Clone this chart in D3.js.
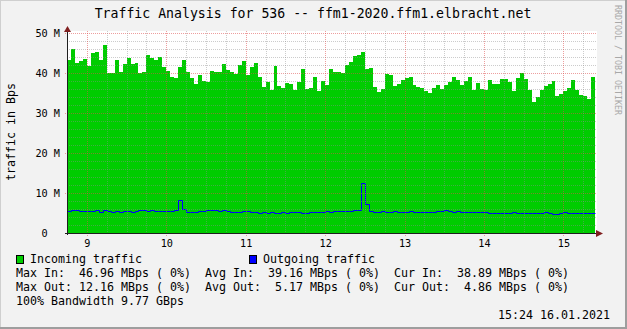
<!DOCTYPE html>
<html>
<head>
<meta charset="utf-8">
<script src="https://cdn.jsdelivr.net/npm/d3@7"></script>
<style>
  body { margin: 0; background: #fff; }
  svg text { font-family: "DejaVu Sans Mono", monospace; white-space: pre; }
</style>
</head>
<body>
<svg id="chart" width="627" height="329"></svg>
<script>
// values in MBps, one sample every 72 minutes starting 08.01.2021 18:00
var incoming = [
  43.25, 46, 42.5, 43, 43.5, 41.75, 45, 45.25, 43.25, 47, 40, 40, 43.25, 40.25,
  42.25, 43.75, 42.25, 42.5, 40, 40.25, 44.5, 43.75, 43.25, 44, 41.5, 40.5, 39, 38.75,
  41.5, 43.25, 40.25, 38.75, 37.25, 39.5, 38, 37.75, 40.5, 40.25, 40.25, 42.25, 40.75,
  40.25, 39.75, 42, 43, 39.5, 41.5, 42.5, 39, 36.5, 37.75, 35.75, 41.75,
  36.75, 36.25, 37.5, 37.25, 35.75, 37.75, 41, 36, 36.25, 39, 35.5, 38, 37, 41,
  40.25, 40.25, 40, 42, 42.75, 44.25, 44.5, 45.25, 41, 41.25, 36.5, 35.25, 36,
  39.75, 39.5, 36.75, 37.25, 38.25, 38.75, 39, 37, 36.5, 36.25, 35.5, 35, 36.25,
  37, 36, 37, 37.75, 39, 38.25, 37, 38, 39, 35.75, 37.5, 36, 35.75,
  38.25, 37.25, 37.25, 38.5, 38.5, 37.75, 35.5, 38.75, 40, 38.5, 35.75, 32.75, 34,
  35.75, 36.75, 37.25, 38, 34.25, 34.75, 35.5, 36.25, 38.25, 35.75, 34.5, 34.25, 33.5, 38.9
];
var outgoing = [
  5.25, 5.5, 5.5, 5.25, 5.25, 5.25, 5.25, 5.5, 5.0, 5.5, 5.25, 5.0, 5.25, 5.0,
  5.25, 5.25, 5.0, 5.25, 5.5, 5.5, 5.25, 5.5, 5.25, 5.25, 5.25, 5.25, 5.25, 5.5,
  8.0, 5.75, 5.0, 5.0, 5.0, 5.25, 5.25, 5.5, 5.5, 5.5, 5.25, 5.5, 5.25,
  5.0, 5.0, 5.0, 5.25, 5.25, 5.0, 5.0, 4.75, 5.0, 4.75, 5.0, 4.75,
  4.75, 5.0, 4.75, 5.0, 5.0, 5.0, 4.75, 4.75, 5.0, 5.0, 5.0, 5.0, 5.25, 5.0,
  5.25, 5.25, 5.25, 5.25, 5.25, 5.5, 5.5, 12.16, 6.9, 5.25, 5.0, 5.0, 5.25,
  5.0, 5.0, 5.25, 5.0, 5.0, 5.0, 5.25, 5.0, 5.0, 5.0, 5.0, 5.0, 5.0,
  5.25, 5.25, 5.5, 5.25, 5.0, 5.25, 5.0, 5.0, 5.0, 5.0, 5.0, 5.0, 5.0,
  4.75, 4.75, 4.75, 4.75, 4.75, 4.75, 5.0, 4.75, 4.75, 4.75, 4.75, 4.75, 4.75, 4.75,
  5.0, 4.75, 4.5, 4.5, 4.75, 5.0, 4.75, 4.75, 4.75, 4.75, 4.75, 4.75, 4.86
];
var yTicks = [0, 10, 20, 30, 40, 50];
var yLabels = ["0  ", "10 M", "20 M", "30 M", "40 M", "50 M"];
var title = "Traffic Analysis for 536 -- ffm1-2020.ffm1.elbracht.net";
var seriesNames = ["Incoming traffic", "Outgoing traffic"];
var seriesColors = ["#00CC00", "#0000FF"];
var statLines = [
  "Max In:  46.96 MBps ( 0%)  Avg In:  39.16 MBps ( 0%)  Cur In:  38.89 MBps ( 0%)",
  "Max Out: 12.16 MBps ( 0%)  Avg Out:  5.17 MBps ( 0%)  Cur Out:  4.86 MBps ( 0%)",
  "100% Bandwidth 9.77 GBps"
];
var stamp = "15:24 16.01.2021";

var svg = d3.select("#chart"),
  W = 627, H = 329,
  pLeft = 67, pRight = 597, pTop = 33, pBottom = 233;

var t0 = new Date(Date.UTC(2021, 0, 8, 18, 0)),
  stepMs = 72 * 60 * 1000,
  tEnd = new Date(+t0 + 6.6725 * 864e5);

var x = d3.scaleUtc().domain([t0, tEnd]).range([pLeft, pRight]),
  y = d3.scaleLinear().domain([0, 50]).range([pBottom, pTop]);

function toPoints(arr) {
  var pts = arr.map(function(v, i) { return {t: new Date(+t0 + i * stepMs), v: v}; });
  pts.push({t: new Date(+t0 + arr.length * stepMs), v: arr[arr.length - 1]});
  return pts;
}

// background + 3d frame
svg.append("rect").attr("width", W).attr("height", H).attr("fill", "#F2F2F2");
svg.append("rect").attr("x", 0).attr("y", 0).attr("width", W).attr("height", 1).attr("fill", "#CFCFCF");
svg.append("rect").attr("x", 0).attr("y", 0).attr("width", 1).attr("height", H).attr("fill", "#CFCFCF");
svg.append("rect").attr("x", 0).attr("y", H - 2).attr("width", W).attr("height", 2).attr("fill", "#9E9E9E");
svg.append("rect").attr("x", W - 2).attr("y", 0).attr("width", 2).attr("height", H).attr("fill", "#9E9E9E");

// canvas
svg.append("rect").attr("x", pLeft).attr("y", 31).attr("width", pRight - pLeft).attr("height", pBottom - 31)
  .attr("fill", "#fff");

// incoming area
svg.append("path")
  .datum(toPoints(incoming))
  .attr("fill", seriesColors[0])
  .attr("shape-rendering", "crispEdges")
  .attr("d", d3.area().curve(d3.curveStepAfter)
    .x(function(d) { return x(d.t); })
    .y0(y(0))
    .y1(function(d) { return y(d.v); }));

// outgoing line
svg.append("path")
  .datum(toPoints(outgoing))
  .attr("fill", "none")
  .attr("stroke", seriesColors[1])
  .attr("stroke-width", 1)
  .attr("transform", "translate(0.5,-0.5)")
  .attr("d", d3.line().curve(d3.curveStepAfter)
    .x(function(d) { return Math.round(x(d.t)); })
    .y(function(d) { return Math.round(y(d.v)); }));

// grid on top of data
var grid = svg.append("g").attr("stroke-dasharray", "1,1").attr("shape-rendering", "crispEdges");
d3.range(2, 51, 2).forEach(function(v) {
  var major = v % 10 === 0;
  grid.append("line")
    .attr("x1", pLeft - (major ? 2 : 0)).attr("x2", pRight)
    .attr("y1", Math.round(y(v)) + 0.5).attr("y2", Math.round(y(v)) + 0.5)
    .attr("stroke", major ? "#DE4F4F" : "#8F8F8F")
    .attr("stroke-opacity", major ? 0.55 : 0.45);
});
x.ticks(d3.utcHour.every(6)).forEach(function(t) {
  var major = t.getUTCHours() === 0;
  var px = Math.round(x(t)) + 0.5;
  grid.append("line")
    .attr("x1", px).attr("x2", px)
    .attr("y1", 31).attr("y2", pBottom + (major ? 3 : 2))
    .attr("stroke", major ? "#DE4F4F" : "#8F8F8F")
    .attr("stroke-opacity", major ? 0.55 : 0.45);
});

// axes labels
var xAxis = svg.append("g")
  .attr("transform", "translate(0," + pBottom + ")")
  .call(d3.axisBottom(x).ticks(d3.utcDay.every(1)).tickFormat(d3.utcFormat("%-d")).tickSize(3).tickPadding(4));
xAxis.select(".domain").remove();
xAxis.selectAll(".tick line").remove();
xAxis.selectAll("text").attr("font-size", "10.2px").attr("fill", "#000")
  .style("font-family", "'DejaVu Sans Mono', monospace");

var yAxis = svg.append("g")
  .attr("transform", "translate(" + pLeft + ",0)")
  .call(d3.axisLeft(y).tickValues(yTicks).tickFormat(function(d, i) { return yLabels[i]; })
    .tickSize(2).tickPadding(5));
yAxis.select(".domain").remove();
yAxis.selectAll(".tick line").remove();
yAxis.selectAll("text").attr("font-size", "10.2px").attr("fill", "#000")
  .style("font-family", "'DejaVu Sans Mono', monospace");

// axis lines + arrows
svg.append("line").attr("x1", pLeft - 2).attr("x2", pRight + 2)
  .attr("y1", pBottom + 0.5).attr("y2", pBottom + 0.5).attr("stroke", "#1F1F1F");
svg.append("line").attr("x1", pLeft + 0.5).attr("x2", pLeft + 0.5)
  .attr("y1", pBottom + 2).attr("y2", 30).attr("stroke", "#1F1F1F");
svg.append("path").attr("fill", "#801F1F")
  .attr("d", "M" + (pRight - 1) + "," + (pBottom - 3) + "L" + (pRight + 6) + "," + (pBottom + 0.5) +
    "L" + (pRight - 1) + "," + (pBottom + 4) + "Z");
svg.append("path").attr("fill", "#801F1F")
  .attr("d", "M" + (pLeft - 3) + ",32L" + (pLeft + 0.5) + ",26L" + (pLeft + 4) + ",32Z");

// title, unit, watermark
svg.append("text").attr("x", 313).attr("y", 18).attr("text-anchor", "middle")
  .attr("font-size", "13.2px").text(title);
svg.append("text").attr("transform", "translate(15,132) rotate(-90)").attr("text-anchor", "middle")
  .attr("font-size", "11.6px").text("traffic in Bps");
svg.append("text").attr("transform", "translate(615,60) rotate(90)").attr("text-anchor", "middle")
  .attr("font-size", "8.3px").attr("fill", "#A8A8A8").text("RRDTOOL / TOBI OETIKER");

// legend
var legX = [16, 249];
seriesNames.forEach(function(name, i) {
  svg.append("rect").attr("x", legX[i] + 0.5).attr("y", 255.5).attr("width", 7).attr("height", 8)
    .attr("fill", seriesColors[i]).attr("stroke", "#000");
  svg.append("text").attr("x", legX[i] + 14).attr("y", 263).attr("font-size", "11.63px").text(name);
});
statLines.forEach(function(line, i) {
  svg.append("text").attr("x", 16).attr("y", 277 + i * 14).attr("font-size", "11.63px").text(line);
});
svg.append("text").attr("x", 610).attr("y", 319).attr("text-anchor", "end")
  .attr("font-size", "11.63px").text(stamp);
</script>
</body>
</html>
